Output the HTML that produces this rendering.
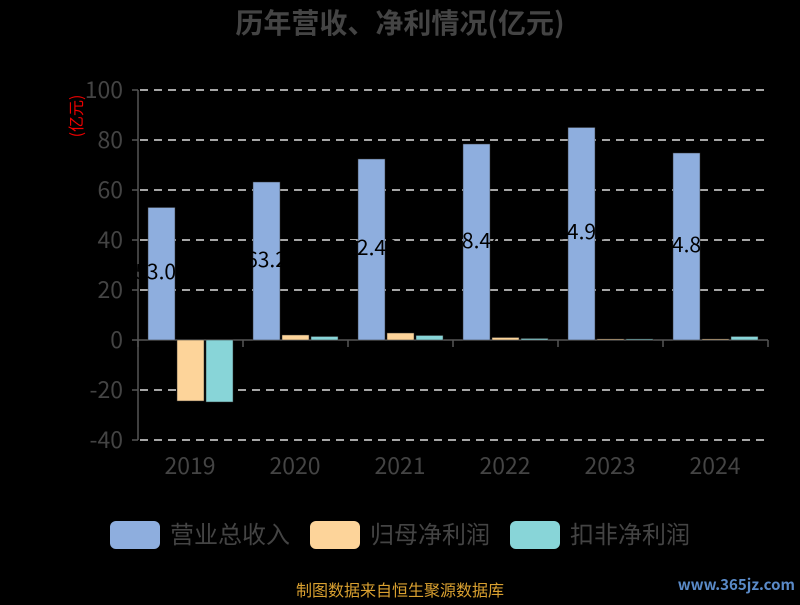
<!DOCTYPE html><html><head><meta charset="utf-8"><style>body{margin:0;background:#000}</style></head><body>
<svg width="800" height="600" xmlns="http://www.w3.org/2000/svg" font-family="Noto Sans CJK SC, Liberation Sans, sans-serif">
<rect width="800" height="600" fill="#000"/>
<text x="400" y="33" text-anchor="middle" font-size="28" font-weight="bold" fill="#444">历年营收、净利情况(亿元)</text>
<text transform="translate(82,116) rotate(-90)" text-anchor="middle" font-size="16" fill="#e00">(亿元)</text>
<g stroke="#ddd" stroke-width="1.5" stroke-dasharray="8,6">
<line x1="140" x2="768" y1="90" y2="90"/><line x1="140" x2="768" y1="140" y2="140"/><line x1="140" x2="768" y1="190" y2="190"/><line x1="140" x2="768" y1="240" y2="240"/><line x1="140" x2="768" y1="290" y2="290"/><line x1="140" x2="768" y1="390" y2="390"/><line x1="140" x2="768" y1="440" y2="440"/>
</g>
<g stroke="#555" stroke-width="1.5">
<line x1="138" x2="138" y1="90" y2="440"/>
<line x1="132" x2="138" y1="90" y2="90"/><line x1="132" x2="138" y1="140" y2="140"/><line x1="132" x2="138" y1="190" y2="190"/><line x1="132" x2="138" y1="240" y2="240"/><line x1="132" x2="138" y1="290" y2="290"/><line x1="132" x2="138" y1="340" y2="340"/><line x1="132" x2="138" y1="390" y2="390"/><line x1="132" x2="138" y1="440" y2="440"/>
<line x1="138" x2="768" y1="340" y2="340"/>
<line x1="138" x2="138" y1="340" y2="347"/><line x1="243" x2="243" y1="340" y2="347"/><line x1="348" x2="348" y1="340" y2="347"/><line x1="453" x2="453" y1="340" y2="347"/><line x1="558" x2="558" y1="340" y2="347"/><line x1="663" x2="663" y1="340" y2="347"/><line x1="768" x2="768" y1="340" y2="347"/>
</g>
<g font-size="23" fill="#444" text-anchor="end">
<text x="123" y="98">100</text><text x="123" y="148">80</text><text x="123" y="198">60</text><text x="123" y="248">40</text><text x="123" y="298">20</text><text x="123" y="348">0</text><text x="123" y="398">-20</text><text x="123" y="448">-40</text>
</g>
<g font-size="23" fill="#444" text-anchor="middle">
<text x="190" y="474">2019</text><text x="295" y="474">2020</text><text x="400" y="474">2021</text><text x="505" y="474">2022</text><text x="610" y="474">2023</text><text x="715" y="474">2024</text>
</g>
<g stroke="#333" stroke-width="0.5">
<rect x="148" y="207.5" width="27" height="132.5" fill="#8eaede"/>
<rect x="177" y="340" width="27" height="61" fill="#fdd49a"/>
<rect x="206" y="340" width="27" height="62" fill="#88d5d8"/>
<rect x="253" y="182" width="27" height="158" fill="#8eaede"/>
<rect x="282" y="335" width="27" height="5" fill="#fdd49a"/>
<rect x="311" y="336.5" width="27" height="3.5" fill="#88d5d8"/>
<rect x="358" y="159" width="27" height="181" fill="#8eaede"/>
<rect x="387" y="333" width="27" height="7" fill="#fdd49a"/>
<rect x="416" y="335.5" width="27" height="4.5" fill="#88d5d8"/>
<rect x="463" y="144" width="27" height="196" fill="#8eaede"/>
<rect x="492" y="337.5" width="27" height="2.5" fill="#fdd49a"/>
<rect x="521" y="338.5" width="27" height="1.5" fill="#88d5d8"/>
<rect x="568" y="127.5" width="27" height="212.5" fill="#8eaede"/>
<rect x="597" y="339" width="27" height="1" fill="#fdd49a"/>
<rect x="626" y="339" width="27" height="1" fill="#88d5d8"/>
<rect x="673" y="153" width="27" height="187" fill="#8eaede"/>
<rect x="702" y="339" width="27" height="1" fill="#fdd49a"/>
<rect x="731" y="336.5" width="27" height="3.5" fill="#88d5d8"/>
</g>
<g font-size="21" fill="#000" text-anchor="middle">
<text x="161.5" y="279">53.02</text><text x="266.5" y="267">63.2</text><text x="371.5" y="255">72.49</text><text x="476.5" y="248">78.44</text><text x="581.5" y="239">84.98</text><text x="686.5" y="252">74.87</text>
</g>
<rect x="110" y="521" width="50" height="28" rx="6" fill="#8eaede"/>
<text x="170" y="543" font-size="24" fill="#444">营业总收入</text>
<rect x="310" y="521" width="50" height="28" rx="6" fill="#fdd49a"/>
<text x="370" y="543" font-size="24" fill="#444">归母净利润</text>
<rect x="510" y="521" width="50" height="28" rx="6" fill="#88d5d8"/>
<text x="570" y="543" font-size="24" fill="#444">扣非净利润</text>
<text x="400" y="596" text-anchor="middle" font-size="16" fill="#d9a030">制图数据来自恒生聚源数据库</text>
<text x="795" y="590" text-anchor="end" font-size="15" font-weight="bold" fill="#5a8ac8">www.365jz.com</text>
</svg>
</body></html>
